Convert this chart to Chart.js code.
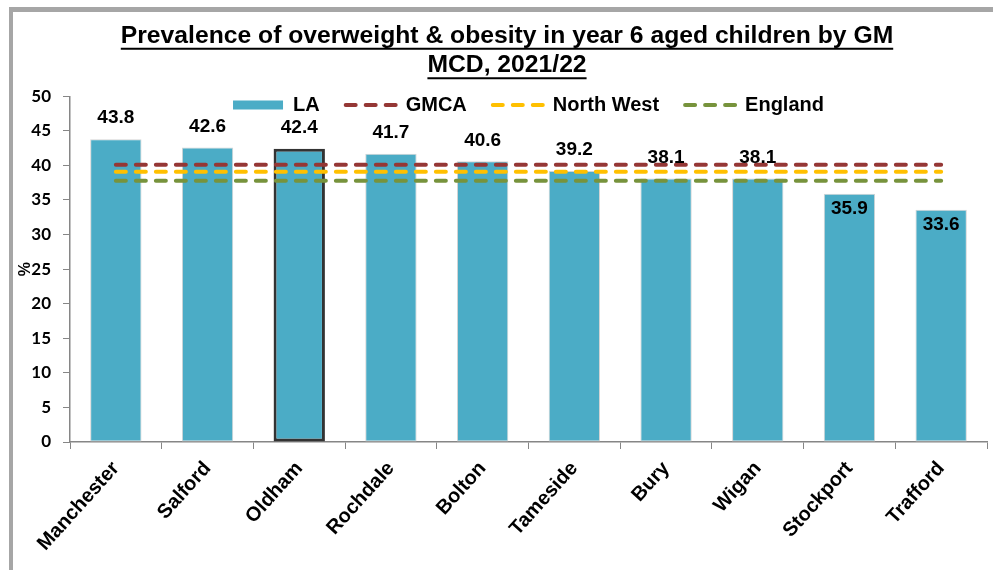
<!DOCTYPE html>
<html>
<head>
<meta charset="utf-8">
<title>Year 6 overweight & obesity by GM LA</title>
<script src="https://cdn.jsdelivr.net/npm/chart.js@4.4.1/dist/chart.umd.min.js"></script>
<style>
  html, body { margin: 0; padding: 0; background: #fff; }
  #frame {
    position: absolute; left: 9px; top: 7px;
    border-top: 5px solid #a6a6a6; border-left: 4px solid #a6a6a6;
  }
  canvas { display: block; }
</style>
</head>
<body>
<div id="frame"><canvas id="obesityChart" width="980" height="558"></canvas></div>
<script>
// data
const areas = ["Manchester", "Salford", "Oldham", "Rochdale", "Bolton", "Tameside", "Bury", "Wigan", "Stockport", "Trafford"];
const laValues = [43.8, 42.6, 42.4, 41.7, 40.6, 39.2, 38.1, 38.1, 35.9, 33.6];
const gmcaValues = [40.1, 40.1, 40.1, 40.1, 40.1, 40.1, 40.1, 40.1, 40.1, 40.1];
const northWestValues = [39.1, 39.1, 39.1, 39.1, 39.1, 39.1, 39.1, 39.1, 39.1, 39.1];
const englandValues = [37.8, 37.8, 37.8, 37.8, 37.8, 37.8, 37.8, 37.8, 37.8, 37.8];
const titleLines = ["Prevalence of overweight & obesity in year 6 aged children by GM", "MCD, 2021/22"];
const highlightArea = "Oldham";

const ARIAL = "'Liberation Sans', Arial, sans-serif";
const axisGrey = "#868686";
const dash = [10, 10];

// 1. value labels above (or just inside) each bar
const valueLabels = {
    id: "valueLabels",
    afterDatasetsDraw(chart) {
        const { ctx } = chart;
        const meta = chart.getDatasetMeta(0);
        ctx.save();
        ctx.font = "bold 19px " + ARIAL;
        ctx.fillStyle = "#000";
        ctx.textAlign = "center";
        ctx.textBaseline = "middle";
        meta.data.forEach((bar, i) => {
            const v = laValues[i];
            // the two lowest bars carry their label inside the top of the bar
            const y = v < 37 ? bar.y + 15 : bar.y - 21;
            ctx.fillText(v.toFixed(1), bar.x, y);
        });
        ctx.restore();
    }
};

// 2. title offset + underline, legend laid over the top of the plot
const titleAndLegend = {
    id: "titleAndLegend",
    beforeLayout(chart) {
        // legend takes no room of its own, it sits inside the plot
        const lg = chart.legend;
        if (lg && !lg._flat) {
            const fit = lg.fit;
            lg.fit = function () { fit.call(this); this.height = 0; };
            lg._flat = true;
        }
    },
    afterLayout(chart) {
        chart.titleBlock.left += 7;
        chart.titleBlock.right += 7;
        const lg = chart.legend;
        lg.left = chart.chartArea.left;
        lg.right = chart.chartArea.right;
        lg.top = 93 - 10 - lg.options.labels.padding;
        lg.bottom = lg.top + 2 * lg.options.labels.padding + 24;
        lg.height = lg.bottom - lg.top;
    },
    afterDraw(chart) {
        const { ctx } = chart;
        const tb = chart.titleBlock;
        const font = tb.options.font;
        const lh = font.size * font.lineHeight;
        const cx = (tb.left + tb.right) / 2;
        ctx.save();
        ctx.font = "bold " + font.size + "px " + ARIAL;
        ctx.strokeStyle = "#000";
        ctx.lineWidth = 2;
        titleLines.forEach((line, i) => {
            const w = ctx.measureText(line).width;
            const y = tb.top + tb.options.padding.top + lh / 2 + i * lh + font.size * 0.52;
            ctx.beginPath();
            ctx.moveTo(cx - w / 2, y);
            ctx.lineTo(cx + w / 2, y);
            ctx.stroke();
        });
        ctx.restore();
    }
};

function lineSet(label, values, colour) {
    return {
        type: "line",
        label: label,
        data: values,
        borderColor: colour,
        backgroundColor: colour,
        borderWidth: 4,
        borderDash: dash,
        borderCapStyle: "round",
        pointRadius: 0,
        fill: false,
        tension: 0,
        order: 1
    };
}

const ctx = document.getElementById("obesityChart").getContext("2d");
const obesityChart = new Chart(ctx, {
    type: "bar",
    data: {
        labels: areas,
        datasets: [
            {
                label: "LA",
                data: laValues,
                backgroundColor: "#4BACC6",
                borderColor: areas.map(a => a === highlightArea ? "#333333" : "#d4d4d4"),
                borderWidth: areas.map(a => a === highlightArea ? 3 : 1),
                borderSkipped: false,
                barPercentage: 0.56,
                categoryPercentage: 1,
                order: 2
            },
            lineSet("GMCA", gmcaValues, "#953735"),
            lineSet("North West", northWestValues, "#FFC000"),
            lineSet("England", englandValues, "#77933C")
        ]
    },
    options: {
        responsive: false,
        animation: false,
        layout: { padding: { left: 0, right: 6, top: 0, bottom: 0 } },
        plugins: {
            title: {
                display: true,
                text: titleLines,
                color: "#000",
                font: { family: ARIAL, size: 24.7, weight: "bold", lineHeight: 1.2 },
                padding: { top: 9, bottom: 16 }
            },
            legend: {
                position: "top",
                align: "center",
                labels: {
                    usePointStyle: true,
                    pointStyleWidth: 50,
                    boxHeight: 9,
                    padding: 26,
                    color: "#000",
                    font: { family: ARIAL, size: 20, weight: "bold" },
                    generateLabels: chart => chart.data.datasets.map((ds, i) => {
                        const isLine = ds.type === "line";
                        return {
                            text: ds.label,
                            fillStyle: ds.backgroundColor,
                            strokeStyle: isLine ? ds.borderColor : ds.backgroundColor,
                            lineWidth: isLine ? 4 : 0,
                            lineDash: isLine ? dash : [],
                            lineCap: "round",
                            pointStyle: isLine ? "line" : "rect",
                            fontColor: "#000",
                            hidden: false,
                            datasetIndex: i
                        };
                    })
                }
            },
            tooltip: { enabled: false }
        },
        scales: {
            x: {
                grid: { drawOnChartArea: false, drawTicks: true, tickLength: 7, color: axisGrey, offset: true },
                border: { color: axisGrey, width: 1.5 },
                ticks: {
                    color: "#000",
                    autoSkip: false,
                    minRotation: 48,
                    maxRotation: 48,
                    padding: 8,
                    font: { family: ARIAL, size: 20, weight: "bold" }
                },
                afterFit: s => { s.height = 128; }
            },
            y: {
                min: 0,
                max: 50,
                grid: { drawOnChartArea: false, drawTicks: true, tickLength: 7, color: axisGrey },
                border: { color: axisGrey, width: 1.5 },
                ticks: {
                    stepSize: 5,
                    color: "#000",
                    padding: 12,
                    font: { family: "Lato, 'Open Sans', sans-serif", size: 17, weight: "bold" }
                },
                title: {
                    display: true,
                    text: "%",
                    color: "#000",
                    font: { family: ARIAL, size: 16, weight: "bold" },
                    padding: { top: 3, bottom: 0 }
                },
                afterFit: s => { s.width = 57; }
            }
        }
    },
    plugins: [valueLabels, titleAndLegend]
});
</script>
</body>
</html>
